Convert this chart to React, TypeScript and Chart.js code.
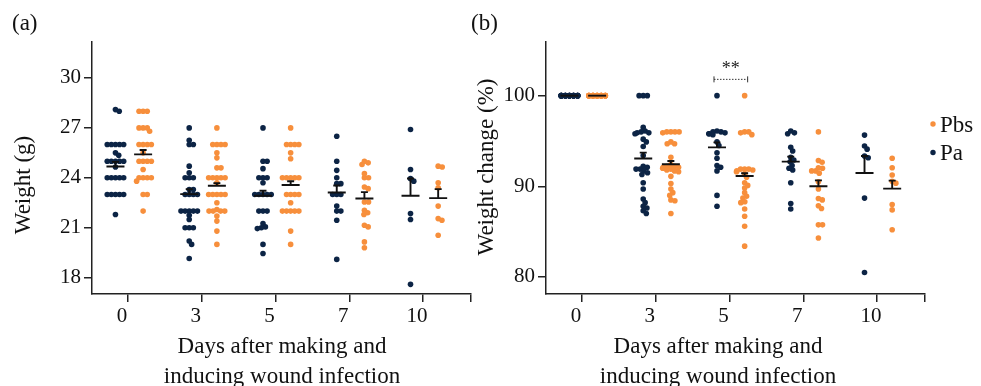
import React, { useEffect, useRef } from 'react';
import { Chart, registerables } from 'chart.js';

Chart.register(...registerables);

// ---------- categories & ticks ----------
const days = ['0', '3', '5', '7', '10'];
const weightTicks = [18, 21, 24, 27, 30];
const changeTicks = [80, 90, 100];

// ---------- panel (a): weight (g) ----------
const paWeightD0 = [28.0, 28.1, 26, 26, 26, 26, 26, 25.5, 25.35, 25, 25, 25, 25, 25, 24.65, 24, 24, 24, 24, 24, 23, 23, 23, 23, 23, 21.8];
const pbsWeightD0 = [28, 28, 28, 27, 27, 27, 26.8, 26, 26, 26, 26, 25.5, 25, 25, 25, 25, 24.5, 24, 24, 24, 24, 23.8, 23, 23, 22];
const paWeightD3 = [27, 26.25, 26, 26, 24.7, 24.3, 24, 24, 24, 23.3, 23.3, 23, 23, 23, 23, 22, 22, 22, 22, 22, 21.75, 21.5, 21, 21, 21, 20.2, 20, 19.15];
const pbsWeightD3 = [27, 26, 26, 26, 26, 25.5, 25.2, 24.6, 24.6, 24, 24, 24, 24, 24, 23.7, 23, 23, 23, 23, 23, 22.5, 22.1, 22, 22, 22, 22, 21.7, 21.4, 20.8, 20];
const paWeightD5 = [27, 25, 25, 24.55, 24, 24, 24, 23.7, 23, 23, 23, 23, 23, 22, 22, 22, 21.25, 21.05, 21, 20.95, 20, 19.45];
const pbsWeightD5 = [27, 26, 26, 26, 26, 25.5, 25.15, 24, 24, 24, 24, 24, 23, 23, 23, 23, 22.5, 22, 22, 22, 22, 22, 20.8, 20];
const paWeightD7 = [26.5, 25, 24.45, 24, 23.65, 23.65, 23, 23, 23, 22.3, 22, 22, 21.45, 19.1];
const pbsWeightD7 = [25, 24.8, 24.9, 24.25, 24, 24, 23.45, 23.35, 22.55, 22.55, 22.05, 21.9, 21.8, 21.15, 21.05, 20.15, 19.8];
const paWeightD10 = [26.9, 24.5, 23.8, 23.95, 21.85, 21.5, 17.6];
const pbsWeightD10 = [24.65, 24.7, 23.7, 23.4, 22.3, 21.55, 21.45, 20.55];

const paWeightMean = [24.68, 23.02, 22.92, 23.12, 22.92];
const paWeightSem = [0.28, 0.3, 0.3, 0.42, 1.04];
const pbsWeightMean = [25.41, 23.52, 23.57, 22.76, 22.78];
const pbsWeightSem = [0.26, 0.16, 0.22, 0.38, 0.54];

// ---------- panel (b): weight change (%) ----------
const paChangeD0 = [100, 100, 100, 100, 100, 100, 100, 100, 100, 100, 100, 100, 100, 100, 100, 100, 100, 100, 100, 100, 100, 100, 100, 100, 100, 100];
const pbsChangeD0 = [100, 100, 100, 100, 100, 100, 100, 100, 100, 100, 100, 100, 100, 100, 100, 100, 100, 100, 100, 100, 100, 100, 100, 100, 100];
const paChangeD3 = [100, 100, 100, 96.5, 96.1, 96, 95.9, 95.9, 95.8, 95.2, 94.9, 94.4, 93.4, 92.2, 92.1, 91.9, 91.9, 91.7, 91.5, 91.3, 90.4, 89.7, 88.6, 88.2, 87.8, 87.6, 87.3, 87.0];
const pbsChangeD3 = [96, 96, 96, 96, 95.9, 94.9, 94.7, 94.7, 93.2, 92.4, 92.2, 92.2, 92.1, 92.1, 92.0, 91.9, 91.8, 91.7, 91.6, 91.1, 90.3, 89.7, 89.3, 89.0, 88.5, 88.4, 87.0];
const paChangeD5 = [100, 96.1, 96.0, 96.0, 95.9, 95.8, 95.8, 95.7, 94.9, 94.5, 93.7, 93.1, 92.3, 92.1, 91.7, 89.0, 87.8];
const pbsChangeD5 = [100, 96.0, 95.7, 95.9, 96.0, 91.9, 91.8, 91.9, 91.9, 91.7, 91.6, 91.4, 91.0, 90.4, 90.1, 89.8, 89.3, 88.9, 88.7, 88.2, 88.3, 87.5, 86.7, 85.6, 83.4];
const paChangeD7 = [95.8, 95.9, 96.1, 93.9, 94.3, 92.9, 92.7, 93.2, 92.3, 91.8, 92.0, 90.4, 87.5, 88.1];
const pbsChangeD7 = [96.0, 92.65, 92.85, 92.0, 91.7, 91.45, 91.7, 92.05, 90.5, 89.7, 88.65, 88.5, 87.55, 87.85, 85.75, 85.75, 84.3];
const paChangeD10 = [95.65, 94.45, 94.1, 93.35, 93.15, 88.7, 80.5];
const pbsChangeD10 = [93.1, 92.05, 91.25, 90.35, 90.55, 88.0, 87.4, 85.2];

const paChangeMean = [100, 93.06, 94.3, 92.72, 91.47];
const paChangeSem = [0, 0.66, 0.55, 0.55, 1.88];
const pbsChangeMean = [100, 92.43, 91.14, 90.0, 89.75];
const pbsChangeSem = [0, 0.37, 0.3, 0.66, 0.88];

// significance marker (day index, bracket value, label)
const sigDayIndex = 2;
const sigValue = 101.8;
const sigLabel = '**';

// ---------- styling ----------
const FONT = "'Liberation Serif', 'Times New Roman', serif";
const PA_COLOR = '#0c2445';
const PBS_COLOR = '#f78f3c';
const INK = '#222222';
const PA_OFFSET = -0.17;
const PBS_OFFSET = 0.205;
const X_MIN = -0.488;
const X_MAX = 4.65;

const points = (groups: number[][], offset: number) =>
  groups.flatMap((arr, k) => arr.map((v) => ({ x: k + offset, y: v })));

// ---------- plugins ----------
function swarmOffsets(ys: number[], d: number, maxHalf: number): number[] {
  const order = ys.map((_, i) => i).sort((a, b) => ys[a] - ys[b]);
  const placed: { x: number; y: number }[] = [];
  const out = new Array(ys.length).fill(0);
  let overflow = 0;
  for (const i of order) {
    const y = ys[i];
    const near = placed.filter((p) => Math.abs(p.y - y) < d);
    const cands = [0];
    for (const p of near) {
      const dx = Math.sqrt(Math.max(d * d - (p.y - y) ** 2, 0));
      cands.push(p.x + dx + 0.01, p.x - dx - 0.01);
    }
    cands.sort((a, b) => Math.abs(a) - Math.abs(b) || b - a);
    let best = NaN;
    for (const c of cands) {
      if (Math.abs(c) > maxHalf) break;
      if (near.every((p) => (p.x - c) ** 2 + (p.y - y) ** 2 >= d * d - 0.01)) {
        best = c;
        break;
      }
    }
    if (isNaN(best)) {
      const slots = Math.floor(maxHalf / d);
      const n = 2 * slots + 1;
      best = ((overflow % n) - slots) * d;
      overflow++;
    }
    placed.push({ x: best, y });
    out[i] = best;
  }
  return out;
}

const swarmPlugin = {
  id: 'swarm',
  afterDatasetsUpdate(chart: any, _args: any, opts: any) {
    chart.data.datasets.forEach((ds: any, di: number) => {
      const meta = chart.getDatasetMeta(di);
      const groups: Record<string, number[]> = {};
      ds.data.forEach((p: any, i: number) => {
        const key = String(p.x);
        (groups[key] = groups[key] || []).push(i);
      });
      Object.values(groups).forEach((idx) => {
        const ys = idx.map((i) => meta.data[i].y);
        const offs = swarmOffsets(ys, opts.spacing, opts.maxHalf);
        idx.forEach((i, k) => {
          meta.data[i].x = meta.data[i].x + offs[k];
        });
      });
    });
  },
};

const meanSemPlugin = {
  id: 'meanSem',
  afterDatasetsDraw(chart: any, _args: any, opts: any) {
    const { ctx } = chart;
    const xs = chart.scales.x;
    const ys = chart.scales.y;
    ctx.save();
    ctx.strokeStyle = opts.color;
    ctx.lineWidth = opts.lineWidth;
    ctx.lineCap = 'butt';
    opts.series.forEach((s: any) => {
      s.means.forEach((m: number, k: number) => {
        const cx = xs.getPixelForValue(k + s.offset);
        const cy = ys.getPixelForValue(m);
        ctx.beginPath();
        ctx.moveTo(cx - opts.halfWidth, cy);
        ctx.lineTo(cx + opts.halfWidth, cy);
        if (s.sems[k] > 0) {
          const ty = ys.getPixelForValue(m + s.sems[k]);
          ctx.moveTo(cx, cy);
          ctx.lineTo(cx, ty);
          ctx.moveTo(cx - opts.capHalf, ty);
          ctx.lineTo(cx + opts.capHalf, ty);
        }
        ctx.stroke();
      });
    });
    ctx.restore();
  },
};

const textPlugin = {
  id: 'texts',
  afterDraw(chart: any, _args: any, opts: any) {
    const { ctx } = chart;
    (opts.items || []).forEach((t: any) => {
      ctx.save();
      ctx.font = `${t.size}px ${FONT}`;
      ctx.fillStyle = t.color || '#111';
      ctx.textAlign = t.align || 'left';
      ctx.textBaseline = 'alphabetic';
      ctx.translate(t.x, t.y);
      if (t.rotate) ctx.rotate(t.rotate);
      ctx.fillText(t.text, 0, 0);
      ctx.restore();
    });
  },
};

const legendPlugin = {
  id: 'dotLegend',
  afterDraw(chart: any, _args: any, opts: any) {
    if (!opts || !opts.order) return;
    const { ctx } = chart;
    ctx.save();
    opts.order.forEach((di: number, k: number) => {
      const ds = chart.data.datasets[di];
      const y = opts.y + k * opts.gap;
      ctx.fillStyle = ds.backgroundColor;
      ctx.beginPath();
      ctx.arc(opts.x, y, opts.radius, 0, Math.PI * 2);
      ctx.fill();
      ctx.fillStyle = '#111';
      ctx.font = `${opts.size}px ${FONT}`;
      ctx.textAlign = 'left';
      ctx.textBaseline = 'alphabetic';
      ctx.fillText(ds.label, opts.x + opts.textGap, y + opts.baselineShift);
    });
    ctx.restore();
  },
};

const bracketPlugin = {
  id: 'bracket',
  afterDraw(chart: any, _args: any, opts: any) {
    if (!opts || opts.day === undefined) return;
    const { ctx } = chart;
    const xs = chart.scales.x;
    const ys = chart.scales.y;
    const x1 = xs.getPixelForValue(opts.day + PA_OFFSET) - opts.extend;
    const x2 = xs.getPixelForValue(opts.day + PBS_OFFSET) + opts.extend;
    const y = ys.getPixelForValue(opts.value);
    ctx.save();
    ctx.strokeStyle = '#333';
    ctx.lineWidth = 1;
    ctx.setLineDash([1.5, 1.5]);
    ctx.beginPath();
    ctx.moveTo(x1, y);
    ctx.lineTo(x2, y);
    ctx.stroke();
    ctx.setLineDash([]);
    ctx.beginPath();
    ctx.moveTo(x1, y - 3);
    ctx.lineTo(x1, y + 3);
    ctx.moveTo(x2, y - 3);
    ctx.lineTo(x2, y + 3);
    ctx.stroke();
    ctx.fillStyle = '#222';
    ctx.font = `18px ${FONT}`;
    ctx.textAlign = 'center';
    ctx.textBaseline = 'alphabetic';
    ctx.fillText(opts.label, (x1 + x2) / 2, y - 5);
    ctx.restore();
  },
};

// ---------- chart config ----------
function makeConfig(p: any) {
  return {
    type: 'scatter',
    data: {
      datasets: [
        {
          label: 'Pa',
          data: points(p.pa, PA_OFFSET),
          backgroundColor: PA_COLOR,
          borderColor: PA_COLOR,
          pointRadius: 2.8,
          pointHoverRadius: 2.8,
          pointBorderWidth: 0,
        },
        {
          label: 'Pbs',
          data: points(p.pbs, PBS_OFFSET),
          backgroundColor: PBS_COLOR,
          borderColor: PBS_COLOR,
          pointRadius: 2.8,
          pointHoverRadius: 2.8,
          pointBorderWidth: 0,
        },
      ],
    },
    options: {
      responsive: false,
      animation: false,
      devicePixelRatio: 1,
      events: [],
      layout: { padding: { left: 0, top: 42, right: p.padRight, bottom: 0 } },
      plugins: {
        legend: { display: false },
        tooltip: { enabled: false },
        swarm: { spacing: 4.1, maxHalf: 9.5 },
        meanSem: {
          color: '#111',
          lineWidth: 1.9,
          halfWidth: 9,
          capHalf: 3.5,
          series: [
            { offset: PA_OFFSET, means: p.paMean, sems: p.paSem },
            { offset: PBS_OFFSET, means: p.pbsMean, sems: p.pbsSem },
          ],
        },
        texts: { items: p.texts },
        dotLegend: p.legend || {},
        bracket: p.bracket || {},
      },
      scales: {
        x: {
          type: 'linear',
          min: X_MIN,
          max: X_MAX,
          afterFit: (s: any) => {
            s.height = 92;
          },
          afterBuildTicks: (s: any) => {
            s.ticks = [...days.map((_, i) => ({ value: i })), { value: X_MAX }];
          },
          ticks: {
            callback: (_v: any, i: number) => (i < days.length ? days[i] : ''),
            font: { family: FONT, size: 21 },
            color: '#111',
            labelOffset: -6,
            padding: 2,
            autoSkip: false,
            maxRotation: 0,
          },
          grid: { drawOnChartArea: false, tickLength: 8, color: INK, lineWidth: 1.5 },
          border: { color: INK, width: 1.5 },
        },
        y: {
          type: 'linear',
          min: p.yMin,
          max: p.yMax,
          afterFit: (s: any) => {
            s.width = p.yWidth;
          },
          afterBuildTicks: (s: any) => {
            s.ticks = p.yTicks.map((v: number) => ({ value: v }));
          },
          ticks: {
            font: { family: FONT, size: 21 },
            color: '#111',
            padding: 3,
          },
          grid: { drawOnChartArea: false, tickLength: 8, color: INK, lineWidth: 1.5 },
          border: { color: INK, width: 1.5 },
        },
      },
    },
    plugins: [swarmPlugin, meanSemPlugin, textPlugin, legendPlugin, bracketPlugin],
  };
}

const panelA = {
  pa: [paWeightD0, paWeightD3, paWeightD5, paWeightD7, paWeightD10],
  pbs: [pbsWeightD0, pbsWeightD3, pbsWeightD5, pbsWeightD7, pbsWeightD10],
  paMean: paWeightMean,
  paSem: paWeightSem,
  pbsMean: pbsWeightMean,
  pbsSem: pbsWeightSem,
  yMin: 17.02,
  yMax: 32.16,
  yTicks: weightTicks,
  yWidth: 92,
  padRight: 9,
  texts: [
    { text: '(a)', x: 12, y: 30, size: 23 },
    { text: 'Weight (g)', x: 30, y: 185, size: 23, align: 'center', rotate: -Math.PI / 2 },
    { text: 'Days after making and', x: 282, y: 353, size: 23, align: 'center' },
    { text: 'inducing wound infection', x: 282, y: 383, size: 23, align: 'center' },
  ],
};

const panelB = {
  pa: [paChangeD0, paChangeD3, paChangeD5, paChangeD7, paChangeD10],
  pbs: [pbsChangeD0, pbsChangeD3, pbsChangeD5, pbsChangeD7, pbsChangeD10],
  paMean: paChangeMean,
  paSem: paChangeSem,
  pbsMean: pbsChangeMean,
  pbsSem: pbsChangeSem,
  yMin: 78.12,
  yMax: 105.92,
  yTicks: changeTicks,
  yWidth: 86,
  padRight: 56,
  texts: [
    { text: '(b)', x: 11, y: 30, size: 23 },
    { text: 'Weight change (%)', x: 33, y: 167, size: 23, align: 'center', rotate: -Math.PI / 2 },
    { text: 'Days after making and', x: 258, y: 353, size: 23, align: 'center' },
    { text: 'inducing wound infection', x: 258, y: 383, size: 23, align: 'center' },
  ],
  legend: { order: [1, 0], x: 473, y: 124, gap: 28.5, radius: 2.7, textGap: 7, size: 23, baselineShift: 7.5 },
  bracket: { day: sigDayIndex, value: sigValue, label: sigLabel, extend: 3 },
};

function Panel({ spec, left, width }: { spec: any; left: number; width: number }) {
  const ref = useRef<HTMLCanvasElement>(null);
  useEffect(() => {
    const chart = new Chart(ref.current as HTMLCanvasElement, makeConfig(spec) as any);
    return () => chart.destroy();
  }, []);
  return (
    <canvas
      ref={ref}
      width={width}
      height={386}
      style={{ position: 'absolute', left, top: 0, width, height: 386 }}
    />
  );
}

export default function App() {
  return (
    <div
      style={{
        position: 'fixed',
        left: 0,
        top: 0,
        width: 981,
        height: 386,
        background: '#ffffff',
        overflow: 'hidden',
      }}
    >
      <Panel spec={panelA} left={0} width={480} />
      <Panel spec={panelB} left={460} width={521} />
    </div>
  );
}
